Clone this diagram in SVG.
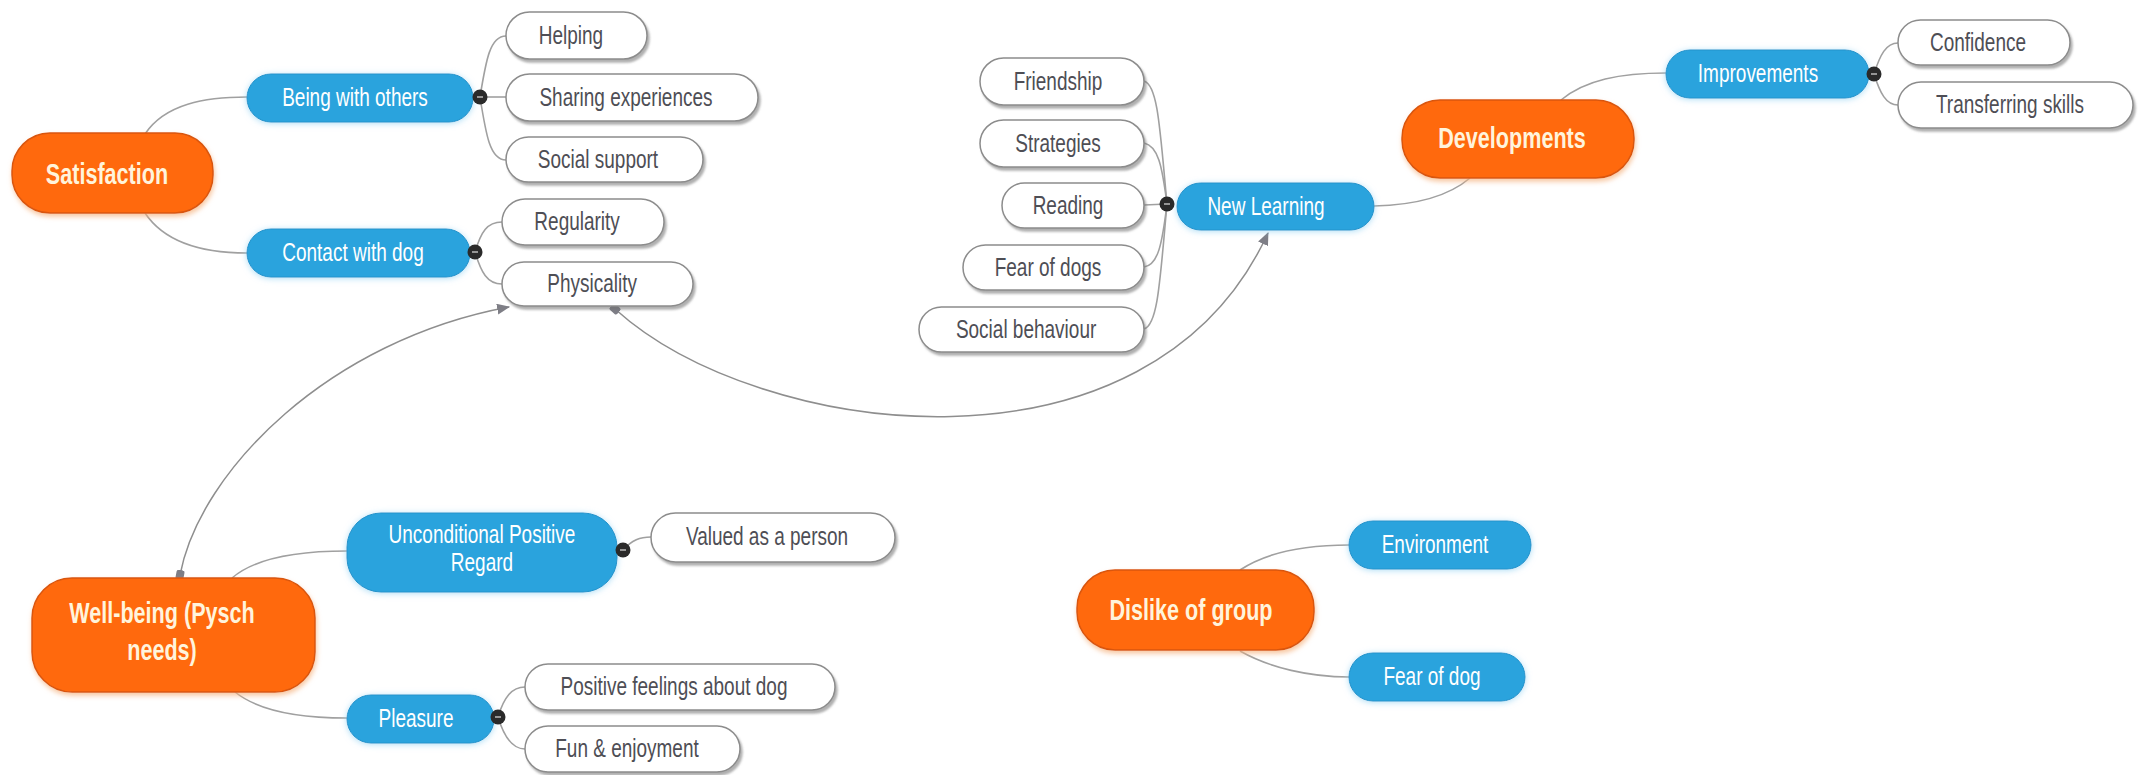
<svg xmlns="http://www.w3.org/2000/svg" width="2147" height="775" viewBox="0 0 2147 775">
  <style>
    text { font-family: "Liberation Sans", Arial, sans-serif; dominant-baseline: central; text-anchor: middle; transform-box: fill-box; transform-origin: center; transform: scaleX(0.76); }
    .main rect { fill: #FF690C; stroke: #D9560A; stroke-width: 1.5; filter: url(#glowOrange); }
    .main text { fill: #FFF4DC; font-size: 30px; font-weight: bold; transform: scaleX(0.72); }
    .sub rect { fill: #29A3DD; stroke: #2393CB; stroke-width: 1; filter: url(#glowBlue); }
    .sub text { fill: #FFFFFF; font-size: 25px; }
    .leaf rect { fill: #FFFFFF; stroke: #8C8C8C; stroke-width: 1.5; filter: url(#shadow); }
    .leaf text { fill: #4E4E55; font-size: 25px; }
    .link { fill: none; stroke: #A0A0A0; stroke-width: 1.6; }
    .xlink { fill: none; stroke: #8E8E8E; stroke-width: 1.5; marker-start: url(#pin); marker-end: url(#arrow); }
    .dot circle { fill: #2A2A2A; }
    .dot line { stroke: #BBBBBB; stroke-width: 1.5; }
  </style>
  <defs>
    <filter id="shadow" x="-10%" y="-20%" width="120%" height="150%">
      <feDropShadow dx="2" dy="3" stdDeviation="1" flood-color="#6E6E6E" flood-opacity="0.55"/>
    </filter>
    <filter id="glowBlue" x="-10%" y="-30%" width="120%" height="160%">
      <feDropShadow dx="0" dy="1" stdDeviation="3" flood-color="#8CCFF2" flood-opacity="0.7"/>
    </filter>
    <filter id="glowOrange" x="-10%" y="-20%" width="120%" height="150%">
      <feDropShadow dx="1" dy="3" stdDeviation="2.5" flood-color="#F5B07A" flood-opacity="0.7"/>
    </filter>
    <marker id="arrow" viewBox="0 0 12 10" refX="11" refY="5" markerWidth="13" markerHeight="11" markerUnits="userSpaceOnUse" orient="auto">
      <path d="M0,0 L12,5 L0,10 Z" fill="#7E7E86"/>
    </marker>
    <marker id="pin" viewBox="0 0 10 10" refX="5" refY="5" markerWidth="10" markerHeight="10" markerUnits="userSpaceOnUse" orient="auto">
      <rect x="0" y="1" width="10" height="8" rx="2" fill="#7E7E86"/>
    </marker>
  </defs>

  <rect width="2147" height="775" fill="#FFFFFF"/>

  <!-- connectors -->
  <g id="connectors">
    <path class="link" d="M145,134 C165,104 205,97 247,97"/>
    <path class="link" d="M145,213 C165,243 205,253 247,253"/>
    <path class="link" d="M480,97 C486,60 490,36 506,36"/>
    <path class="link" d="M480,97 L506,97"/>
    <path class="link" d="M480,97 C486,135 490,160 506,160"/>
    <path class="link" d="M475,252 C481,232 487,222 502,222"/>
    <path class="link" d="M475,252 C481,272 487,284 502,284"/>
    <path class="link" d="M1167,204 C1160,130 1158,85 1144,81"/>
    <path class="link" d="M1167,204 C1162,165 1158,146 1144,143"/>
    <path class="link" d="M1167,204 L1144,205"/>
    <path class="link" d="M1167,204 C1162,245 1158,265 1144,267"/>
    <path class="link" d="M1167,204 C1160,280 1158,325 1144,329"/>
    <path class="link" d="M1374,206 C1420,205 1450,195 1470,178"/>
    <path class="link" d="M1561,100 C1585,80 1620,73 1666,73"/>
    <path class="link" d="M1874,74 C1880,55 1886,43 1898,43"/>
    <path class="link" d="M1874,74 C1880,93 1886,105 1898,105"/>
    <path class="link" d="M232,578 C255,558 300,551 347,551"/>
    <path class="link" d="M235,692 C260,712 300,718 347,718"/>
    <path class="link" d="M623,550 C632,540 640,537 651,537"/>
    <path class="link" d="M498,717 C504,697 512,687 525,687"/>
    <path class="link" d="M498,717 C504,737 512,749 525,749"/>
    <path class="link" d="M1240,570 C1270,550 1310,545 1349,545"/>
    <path class="link" d="M1240,651 C1270,668 1310,677 1349,677"/>
    <path class="xlink" d="M180,575 C200,470 330,340 509,307"/>
    <path class="xlink" d="M615,309 C760,440 1150,490 1268,233"/>
  </g>

  <!-- Satisfaction branch -->
  <g id="satisfaction" class="main">
    <rect x="12" y="133" width="201" height="80" rx="38"/>
    <text x="107" y="174">Satisfaction</text>
  </g>
  <g id="being-with-others" class="sub">
    <rect x="247" y="74" width="226" height="48" rx="24"/>
    <text x="355" y="98">Being with others</text>
  </g>
  <g id="helping" class="leaf">
    <rect x="506" y="12" width="141" height="47" rx="23.5"/>
    <text x="571" y="36">Helping</text>
  </g>
  <g id="sharing-experiences" class="leaf">
    <rect x="506" y="74" width="252" height="47" rx="23.5"/>
    <text x="626" y="98">Sharing experiences</text>
  </g>
  <g id="social-support" class="leaf">
    <rect x="506" y="137" width="197" height="45" rx="22.5"/>
    <text x="598" y="160">Social support</text>
  </g>
  <g id="contact-with-dog" class="sub">
    <rect x="247" y="229" width="223" height="48" rx="24"/>
    <text x="353" y="253">Contact with dog</text>
  </g>
  <g id="regularity" class="leaf">
    <rect x="502" y="199" width="162" height="46" rx="23"/>
    <text x="577" y="222">Regularity</text>
  </g>
  <g id="physicality" class="leaf">
    <rect x="502" y="262" width="191" height="44" rx="22"/>
    <text x="592" y="284">Physicality</text>
  </g>

  <!-- New Learning / Developments branch -->
  <g id="friendship" class="leaf">
    <rect x="980" y="58" width="164" height="47" rx="23.5"/>
    <text x="1058" y="82">Friendship</text>
  </g>
  <g id="strategies" class="leaf">
    <rect x="980" y="120" width="164" height="47" rx="23.5"/>
    <text x="1058" y="144">Strategies</text>
  </g>
  <g id="reading" class="leaf">
    <rect x="1002" y="183" width="142" height="45" rx="22.5"/>
    <text x="1068" y="206">Reading</text>
  </g>
  <g id="fear-of-dogs" class="leaf">
    <rect x="963" y="245" width="181" height="45" rx="22.5"/>
    <text x="1048" y="268">Fear of dogs</text>
  </g>
  <g id="social-behaviour" class="leaf">
    <rect x="919" y="307" width="225" height="45" rx="22.5"/>
    <text x="1026" y="330">Social behaviour</text>
  </g>
  <g id="new-learning" class="sub">
    <rect x="1177" y="183" width="197" height="47" rx="23.5"/>
    <text x="1266" y="207">New Learning</text>
  </g>
  <g id="developments" class="main">
    <rect x="1402" y="100" width="232" height="78" rx="38"/>
    <text x="1512" y="138">Developments</text>
  </g>
  <g id="improvements" class="sub">
    <rect x="1666" y="50" width="203" height="48" rx="24"/>
    <text x="1758" y="74">Improvements</text>
  </g>
  <g id="confidence" class="leaf">
    <rect x="1898" y="20" width="172" height="45" rx="22.5"/>
    <text x="1978" y="43">Confidence</text>
  </g>
  <g id="transferring-skills" class="leaf">
    <rect x="1898" y="82" width="235" height="46" rx="23"/>
    <text x="2010" y="105">Transferring skills</text>
  </g>

  <!-- Well-being branch -->
  <g id="well-being" class="main">
    <rect x="32" y="578" width="283" height="114" rx="40"/>
    <text x="162" y="613">Well-being (Pysch</text>
    <text x="162" y="650">needs)</text>
  </g>
  <g id="unconditional-positive-regard" class="sub">
    <rect x="347" y="513" width="270" height="79" rx="34"/>
    <text x="482" y="535">Unconditional Positive</text>
    <text x="482" y="563">Regard</text>
  </g>
  <g id="valued-as-a-person" class="leaf">
    <rect x="651" y="513" width="244" height="49" rx="24.5"/>
    <text x="767" y="537">Valued as a person</text>
  </g>
  <g id="pleasure" class="sub">
    <rect x="347" y="695" width="147" height="48" rx="24"/>
    <text x="416" y="719">Pleasure</text>
  </g>
  <g id="positive-feelings-about-dog" class="leaf">
    <rect x="525" y="664" width="310" height="46" rx="23"/>
    <text x="674" y="687">Positive feelings about dog</text>
  </g>
  <g id="fun-and-enjoyment" class="leaf">
    <rect x="525" y="726" width="215" height="46" rx="23"/>
    <text x="627" y="749">Fun &amp; enjoyment</text>
  </g>

  <!-- Dislike of group branch -->
  <g id="dislike-of-group" class="main">
    <rect x="1077" y="570" width="237" height="80" rx="38"/>
    <text x="1191" y="610">Dislike of group</text>
  </g>
  <g id="environment" class="sub">
    <rect x="1349" y="521" width="182" height="48" rx="24"/>
    <text x="1435" y="545">Environment</text>
  </g>
  <g id="fear-of-dog" class="sub">
    <rect x="1349" y="653" width="176" height="48" rx="24"/>
    <text x="1432" y="677">Fear of dog</text>
  </g>

  <!-- collapse toggles -->
  <g id="toggles" class="dot">
    <circle cx="480" cy="97" r="7.5"/><line x1="477" y1="97" x2="483" y2="97"/>
    <circle cx="475" cy="252" r="7.5"/><line x1="472" y1="252" x2="478" y2="252"/>
    <circle cx="1167" cy="204" r="7.5"/><line x1="1164" y1="204" x2="1170" y2="204"/>
    <circle cx="1874" cy="74" r="7.5"/><line x1="1871" y1="74" x2="1877" y2="74"/>
    <circle cx="623" cy="550" r="7.5"/><line x1="620" y1="550" x2="626" y2="550"/>
    <circle cx="498" cy="717" r="7.5"/><line x1="495" y1="717" x2="501" y2="717"/>
  </g>
</svg>
